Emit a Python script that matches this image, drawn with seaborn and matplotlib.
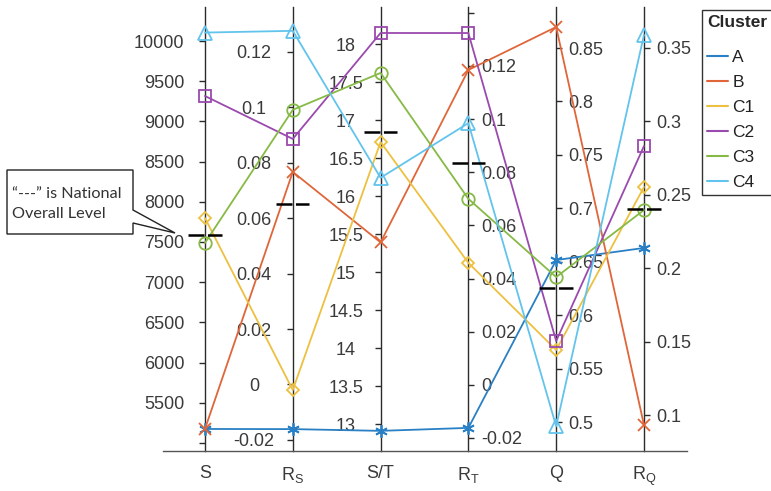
import numpy as np
import pandas as pd
import matplotlib
matplotlib.use("Agg")
import matplotlib.pyplot as plt
import seaborn as sns
from matplotlib.lines import Line2D
from matplotlib.patches import Polygon

# variables (parallel axes)
variables = ["S", "R_S", "S/T", "R_T", "Q", "R_Q"]
var_labels = ["S", r"$\mathregular{R_S}$", "S/T", r"$\mathregular{R_T}$", "Q", r"$\mathregular{R_Q}$"]
clusters = ["A", "B", "C1", "C2", "C3", "C4"]

# cluster values per variable
A = [5174, -0.0161, 12.91, -0.0162, 0.6516, 0.2138]
B = [5174, 0.0767, 15.39, 0.1185, 0.8697, 0.0932]
C1 = [7798, -0.0020, 16.71, 0.0459, 0.5674, 0.2553]
C2 = [9316, 0.0886, 18.145, 0.1324, 0.5758, 0.2832]
C3 = [7488, 0.0991, 17.62, 0.0700, 0.6357, 0.2396]
C4 = [10105, 0.1276, 16.24, 0.0985, 0.4960, 0.3589]
national = [7587, 0.0651, 16.84, 0.0835, 0.6254, 0.2403]

# axis ranges and ticks
limits = [(4900, 10423), (-0.024, 0.1362), (12.645, 18.487),
          (-0.0249, 0.1422), (0.4729, 0.8884), (0.0755, 0.3779)]
ticks_S = [5000, 5500, 6000, 6500, 7000, 7500, 8000, 8500, 9000, 9500, 10000]
labels_S = ["", "5500", "6000", "6500", "7000", "7500", "8000", "8500", "9000", "9500", "10000"]
ticks_RS = [-0.02, 0, 0.02, 0.04, 0.06, 0.08, 0.1, 0.12]
labels_RS = ["-0.02", "0", "0.02", "0.04", "0.06", "0.08", "0.1", "0.12"]
ticks_ST = [13, 13.5, 14, 14.5, 15, 15.5, 16, 16.5, 17, 17.5, 18]
labels_ST = ["13", "13.5", "14", "14.5", "15", "15.5", "16", "16.5", "17", "17.5", "18"]
ticks_RT = [-0.02, 0, 0.02, 0.04, 0.06, 0.08, 0.1, 0.12, 0.14]
labels_RT = ["-0.02", "0", "0.02", "0.04", "0.06", "0.08", "0.1", "0.12", ""]
ticks_Q = [0.5, 0.55, 0.6, 0.65, 0.7, 0.75, 0.8, 0.85]
labels_Q = ["0.5", "0.55", "0.6", "0.65", "0.7", "0.75", "0.8", "0.85"]
ticks_RQ = [0.1, 0.15, 0.2, 0.25, 0.3, 0.35]
labels_RQ = ["0.1", "0.15", "0.2", "0.25", "0.3", "0.35"]
all_ticks = [ticks_S, ticks_RS, ticks_ST, ticks_RT, ticks_Q, ticks_RQ]
all_labels = [labels_S, labels_RS, labels_ST, labels_RT, labels_Q, labels_RQ]

colors = ["#2a80c4", "#e0663a", "#edc040", "#9a4aae", "#86ba45", "#62c4ec"]
markers = [(6, 2, 0), "x", "D", "s", "o", "^"]
msizes = [9, 8.5, 6.3, 8.5, 9, 9.5]

sns.set_style("white")
plt.rcParams["font.family"] = ["Liberation Sans", "DejaVu Sans"]
plt.rcParams["lines.scale_dashes"] = False

W, H = 771, 491
fig = plt.figure(figsize=(W / 100, H / 100), dpi=100)
left, right, top, bottom = 163, 687, 7, 451
rect = [left / W, 1 - bottom / H, (right - left) / W, (bottom - top) / H]
ax = fig.add_axes(rect)

def norm(vals):
    return [(v - lo) / (hi - lo) for v, (lo, hi) in zip(vals, limits)]

pos = np.arange(len(variables))
spine_col = "#2b2b2b"
tick_col = "#3a3a3a"

# individual axes
for i in range(len(variables)):
    tw = ax.twinx()
    tw.set_ylim(*limits[i])
    for s in tw.spines.values():
        s.set_visible(False)
    side = "left" if i < 3 else "right"
    tw.spines[side].set_visible(True)
    tw.spines[side].set_position(("data", i))
    tw.spines[side].set_color(spine_col)
    tw.spines[side].set_linewidth(1.0)
    tw.yaxis.set_ticks_position(side)
    tw.set_yticks(all_ticks[i], all_labels[i])
    if i == 0:
        pad = 11
    elif i == 1:
        pad = 24
    elif i == 2:
        pad = 21
    else:
        pad = 5
    tw.tick_params(axis="y", direction="out", length=4, width=1.0, color=spine_col,
                   labelsize=13, labelcolor=tick_col, pad=pad)
    if i in (1, 2):
        for lab in tw.get_yticklabels():
            lab.set_ha("center")
    tw.grid(False)

ax.set_zorder(10)
ax.patch.set_visible(False)
data = {"A": A, "B": B, "C1": C1, "C2": C2, "C3": C3, "C4": C4}
for k, name in enumerate(clusters):
    df = pd.DataFrame({"pos": pos, "val": norm(data[name])})
    sns.lineplot(data=df, x="pos", y="val", ax=ax, color=colors[k], marker=markers[k],
                 markersize=msizes[k], markerfacecolor="none", markeredgecolor=colors[k],
                 markeredgewidth=1.3, linewidth=1.3, legend=False, sort=False)

nat = norm(national)
for i in range(len(variables)):
    ax.plot([i - 0.19, i + 0.19], [nat[i], nat[i]], color="black", lw=1.8,
            dashes=(11.5, 2.5), zorder=20)

ax.set_xlim(-0.478, 5.49)
ax.set_ylim(0, 1)
ax.set_yticks([])
ax.set_xticks(pos, var_labels)
ax.tick_params(axis="x", length=0, pad=10, labelsize=13, labelcolor=tick_col)
ax.set_xlabel("")
ax.set_ylabel("")
for s in ["top", "left", "right"]:
    ax.spines[s].set_visible(False)
ax.spines["bottom"].set_color("#555555")
ax.spines["bottom"].set_linewidth(1.0)
ax.grid(False)

# legend
handles = [Line2D([0], [0], color=c, lw=1.5) for c in colors]
leg = fig.legend(handles, clusters, title="Cluster", loc="upper left",
                 bbox_to_anchor=(702 / W, 1 - 10 / H), fontsize=12.5, title_fontsize=12.5,
                 frameon=True, fancybox=False, framealpha=1, edgecolor="#333333",
                 borderaxespad=0, borderpad=0.3, handlelength=1.2, handletextpad=0.25,
                 labelspacing=0.57, alignment="left")
leg._legend_box.sep = 14
leg.get_title().set_fontweight("bold")
leg.get_frame().set_linewidth(1.0)
for t in leg.get_texts():
    t.set_color("#222222")

fig.canvas.draw()
lb = leg.get_window_extent()
tb = leg.get_title().get_window_extent()
ysep = tb.y0 - 5
fig.add_artist(Line2D([lb.x0 / W, lb.x1 / W], [ysep / H, ysep / H],
                      transform=fig.transFigure, color="#333333", lw=1.0))

# callout box
pts = [(7, 170), (133, 170), (133, 210), (175, 233), (133, 223), (133, 234), (7, 234)]
poly = Polygon([(x / W, 1 - y / H) for x, y in pts], closed=True, transform=fig.transFigure,
               facecolor="white", edgecolor="#222222", lw=1.0)
fig.add_artist(poly)
fig.text(12 / W, 1 - 204 / H, "\u201c---\u201d is National\nOverall Level", fontsize=11.7,
         family=["Lato", "DejaVu Sans"], color="#333333", va="center", ha="left",
         linespacing=1.5)

fig.savefig("out.png", dpi=100)
